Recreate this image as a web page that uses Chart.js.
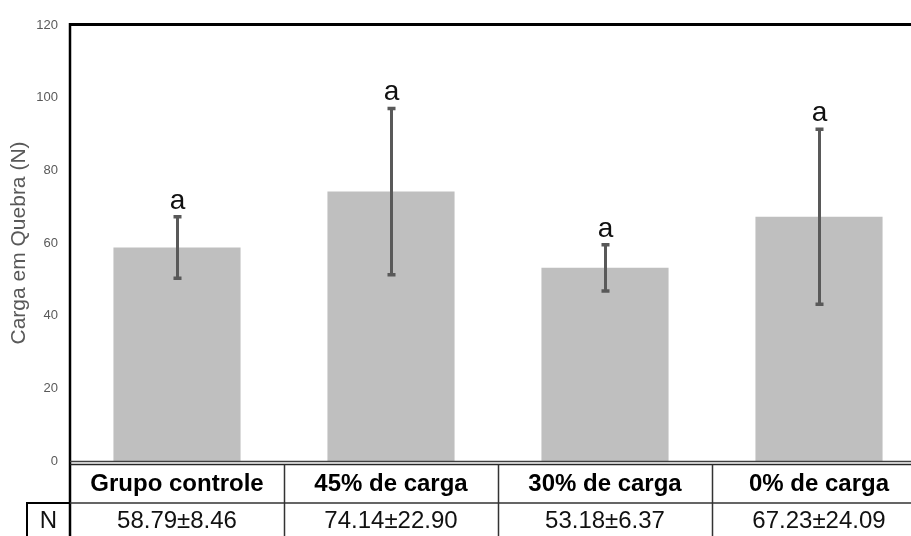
<!DOCTYPE html>
<html>
<head>
<meta charset="utf-8">
<script src="https://cdn.jsdelivr.net/npm/chart.js@4/dist/chart.umd.min.js"></script>
<style>
  html, body { margin: 0; padding: 0; background: #fff; }
  #wrap { width: 911px; height: 536px; overflow: hidden; position: relative; }
  #c { display: block; }
</style>
</head>
<body>
<div id="wrap"><canvas id="c" width="930" height="536"></canvas></div>
<script>
// Breaking load per group (mean ± SD) and significance letters
const categories = ['Grupo controle', '45% de carga', '30% de carga', '0% de carga'];
const means = [58.79, 74.14, 53.18, 67.23];
const sds = [8.46, 22.90, 6.37, 24.09];
const letters = ['a', 'a', 'a', 'a'];
const yTicks = [0, 20, 40, 60, 80, 100, 120];
const rowLabel = 'N';

const FONT = '"Liberation Sans", Arial, Helvetica, sans-serif';

const tableRows = means.map((m, i) => m.toFixed(2) + '\u00B1' + sds[i].toFixed(2));

// Error bars, letters, frame and data table drawn against the chart's scales
const decorations = {
  id: 'decorations',
  afterDatasetsDraw(chart) {
    const ctx = chart.ctx;
    const y = chart.scales.y;
    const meta = chart.getDatasetMeta(0);
    ctx.save();
    meta.data.forEach((bar, i) => {
      const x = Math.round(bar.x) + 0.5;
      const yTop = y.getPixelForValue(means[i] + sds[i]);
      const yBot = y.getPixelForValue(means[i] - sds[i]);
      ctx.strokeStyle = '#595959';
      ctx.lineWidth = 3;
      ctx.beginPath();
      ctx.moveTo(x, yTop);
      ctx.lineTo(x, yBot);
      ctx.stroke();
      ctx.lineWidth = 3.5;
      ctx.beginPath();
      ctx.moveTo(x - 4, yTop);
      ctx.lineTo(x + 4, yTop);
      ctx.moveTo(x - 4, yBot);
      ctx.lineTo(x + 4, yBot);
      ctx.stroke();
      ctx.fillStyle = '#111';
      ctx.font = '28px ' + FONT;
      ctx.textAlign = 'center';
      ctx.textBaseline = 'alphabetic';
      ctx.fillText(letters[i], x, yTop - 8);
    });
    ctx.restore();
  },
  afterDraw(chart) {
    const ctx = chart.ctx;
    const area = chart.chartArea;
    const xs = chart.scales.x;
    const W = chart.width;
    const H = chart.height;
    const left = area.left;
    const bottom = area.bottom;
    const headTop = bottom + 3.5;
    const rowTop = 503;
    ctx.save();

    // plot frame: top and left
    ctx.strokeStyle = '#000';
    ctx.lineWidth = 3;
    ctx.beginPath();
    ctx.moveTo(left - 1, area.top - 0.5);
    ctx.lineTo(W, area.top - 0.5);
    ctx.stroke();
    ctx.lineWidth = 2.5;
    ctx.beginPath();
    ctx.moveTo(left, area.top - 2);
    ctx.lineTo(left, H);
    ctx.stroke();

    // double base line
    ctx.strokeStyle = '#404040';
    ctx.lineWidth = 1.5;
    ctx.beginPath();
    ctx.moveTo(left, bottom + 0.5);
    ctx.lineTo(W, bottom + 0.5);
    ctx.stroke();
    ctx.strokeStyle = '#262626';
    ctx.beginPath();
    ctx.moveTo(left, headTop);
    ctx.lineTo(W, headTop);
    ctx.stroke();

    // table grid
    ctx.strokeStyle = '#333';
    ctx.lineWidth = 1.5;
    ctx.beginPath();
    ctx.moveTo(left, rowTop);
    ctx.lineTo(W, rowTop);
    const step = (xs.right - xs.left) / categories.length;
    for (let i = 1; i < categories.length; i++) {
      const sx = Math.round(xs.left + step * i) + 0.5;
      ctx.moveTo(sx, headTop);
      ctx.lineTo(sx, H);
    }
    ctx.stroke();

    // row label box
    ctx.strokeStyle = '#000';
    ctx.lineWidth = 2;
    ctx.beginPath();
    ctx.moveTo(27, H);
    ctx.lineTo(27, rowTop);
    ctx.lineTo(left, rowTop);
    ctx.stroke();

    ctx.textAlign = 'center';
    ctx.textBaseline = 'middle';
    ctx.fillStyle = '#000';
    ctx.font = 'bold 24px ' + FONT;
    categories.forEach((c, i) => {
      ctx.fillText(c, xs.getPixelForValue(i), (headTop + rowTop) / 2 + 1);
    });
    ctx.font = '24px ' + FONT;
    ctx.fillStyle = '#111';
    tableRows.forEach((t, i) => {
      ctx.fillText(t, xs.getPixelForValue(i), 521);
    });
    ctx.fillText(rowLabel, (27 + left) / 2, 521);
    ctx.restore();
  }
};

new Chart(document.getElementById('c'), {
  type: 'bar',
  data: {
    labels: categories,
    datasets: [{
      data: means,
      backgroundColor: '#bfbfbf',
      borderWidth: 0,
      barPercentage: 1,
      categoryPercentage: 0.594
    }]
  },
  options: {
    responsive: false,
    animation: false,
    devicePixelRatio: 1,
    layout: { padding: { top: 25, right: 4, bottom: 75, left: 0 } },
    plugins: { legend: { display: false }, tooltip: { enabled: false } },
    scales: {
      x: { display: false },
      y: {
        min: 0,
        max: 120,
        afterFit(scale) { scale.width = 70; },
        afterBuildTicks(scale) { scale.ticks = yTicks.map(v => ({ value: v })); },
        grid: { display: false, drawTicks: false },
        border: { display: false },
        ticks: {
          padding: 12,
          color: '#595959',
          font: { family: FONT, size: 13 }
        },
        title: {
          display: true,
          text: 'Carga em Quebra (N)',
          color: '#595959',
          font: { family: FONT, size: 21 },
          padding: { top: 7, bottom: 0 }
        }
      }
    }
  },
  plugins: [decorations]
});
</script>
</body>
</html>
